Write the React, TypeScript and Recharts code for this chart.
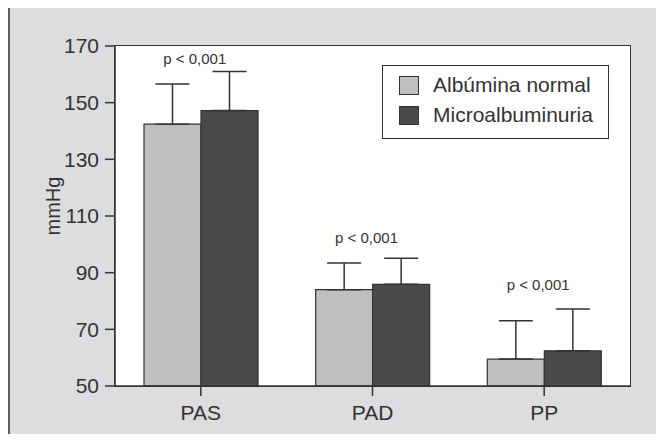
import { BarChart, Bar, XAxis, YAxis, ErrorBar, Legend, ReferenceDot } from "recharts";

const categories = ["PAS", "PAD", "PP"];
const normalMean = [142.4, 84.0, 59.5];
const normalSd = [14.2, 9.4, 13.5];
const microMean = [147.2, 85.9, 62.4];
const microSd = [13.8, 9.2, 14.8];
const pLabel = "p < 0,001";
const pLabelY = [165.4, 102.2, 85.6];
const yTicks = [50, 70, 90, 110, 130, 150, 170];

const data = categories.map((cat, i) => ({
  cat,
  normal: normalMean[i],
  normalErr: [0, normalSd[i]],
  micro: microMean[i],
  microErr: [0, microSd[i]],
}));

const FONT = '"Liberation Sans", Arial, sans-serif';
const INK = "#333";

function LegendBox({ payload }: any) {
  return (
    <div
      style={{
        boxSizing: "border-box",
        width: 227,
        height: 74,
        border: `1.5px solid ${INK}`,
        background: "#fff",
        padding: "4px 0 0 16px",
        fontFamily: FONT,
      }}
    >
      {(payload || []).map((p: any) => (
        <div key={p.value} style={{ display: "flex", alignItems: "center", height: 30 }}>
          <span
            style={{
              display: "inline-block",
              boxSizing: "border-box",
              width: 20,
              height: 19,
              background: p.color,
              border: `1.5px solid ${INK}`,
            }}
          />
          <span style={{ marginLeft: 14, fontSize: 21, color: INK }}>{p.value}</span>
        </div>
      ))}
    </div>
  );
}

export default function App() {
  return (
    <div style={{ position: "relative", width: 664, height: 442, margin: -8, overflow: "hidden", background: "#fff" }}>
      <div
        style={{
          position: "absolute",
          left: 8,
          top: 6,
          width: 654,
          height: 470,
          boxSizing: "border-box",
          border: "2px solid #5d5e60",
          background: "#dcdddf",
        }}
      />
      <div
        style={{
          position: "absolute",
          left: 114,
          top: 45,
          width: 517,
          height: 342,
          boxSizing: "border-box",
          border: `1.5px solid ${INK}`,
          background: "#fff",
        }}
      />
      <div style={{ position: "absolute", left: 0, top: 0 }}>
        <BarChart
          width={664}
          height={442}
          data={data}
          margin={{ top: 46, right: 34, bottom: 16, left: 45 }}
          barSize={57}
          barGap={0}
        >
          <XAxis
            dataKey="cat"
            height={40}
            tickSize={10}
            tickMargin={9}
            stroke={INK}
            strokeWidth={1.5}
            tick={{ fontSize: 21, fill: INK, fontFamily: FONT }}
          />
          <YAxis
            domain={[50, 170]}
            ticks={yTicks}
            width={70}
            tickSize={10}
            tickMargin={6}
            stroke={INK}
            strokeWidth={1.5}
            tick={{ fontSize: 21, fill: INK, fontFamily: FONT }}
            label={(props: any) => {
              const vb = props.viewBox || { x: 45, y: 46, height: 340 };
              const x = vb.x + 8;
              const y = vb.y + vb.height / 2 - 10;
              return (
                <text
                  x={x}
                  y={y}
                  transform={`rotate(-90 ${x} ${y})`}
                  textAnchor="middle"
                  dominantBaseline="central"
                  fontSize={20}
                  fill={INK}
                  fontFamily={FONT}
                >
                  mmHg
                </text>
              );
            }}
          />
          <Legend
            layout="horizontal"
            verticalAlign="middle"
            align="center"
            wrapperStyle={{ left: 382, top: 65, width: 227, height: 74 }}
            content={(props: any) => <LegendBox payload={props.payload} />}
          />
          <Bar
            dataKey="normal"
            name="Albúmina normal"
            fill="#bebfc1"
            stroke={INK}
            strokeWidth={1.2}
            isAnimationActive={false}
          >
            <ErrorBar dataKey="normalErr" direction="y" width={17} stroke={INK} strokeWidth={1.5} />
          </Bar>
          <Bar
            dataKey="micro"
            name="Microalbuminuria"
            fill="#4a4a4c"
            stroke={INK}
            strokeWidth={1.2}
            isAnimationActive={false}
          >
            <ErrorBar dataKey="microErr" direction="y" width={17} stroke={INK} strokeWidth={1.5} />
          </Bar>
          {categories.map((c, i) => (
            <ReferenceDot
              key={c}
              x={c}
              y={pLabelY[i]}
              r={0}
              fill="none"
              stroke="none"
              ifOverflow="visible"
              label={{
                value: pLabel,
                position: "center",
                fontSize: 15,
                fill: INK,
                fontFamily: FONT,
                dx: -6,
              }}
            />
          ))}
        </BarChart>
      </div>
    </div>
  );
}
